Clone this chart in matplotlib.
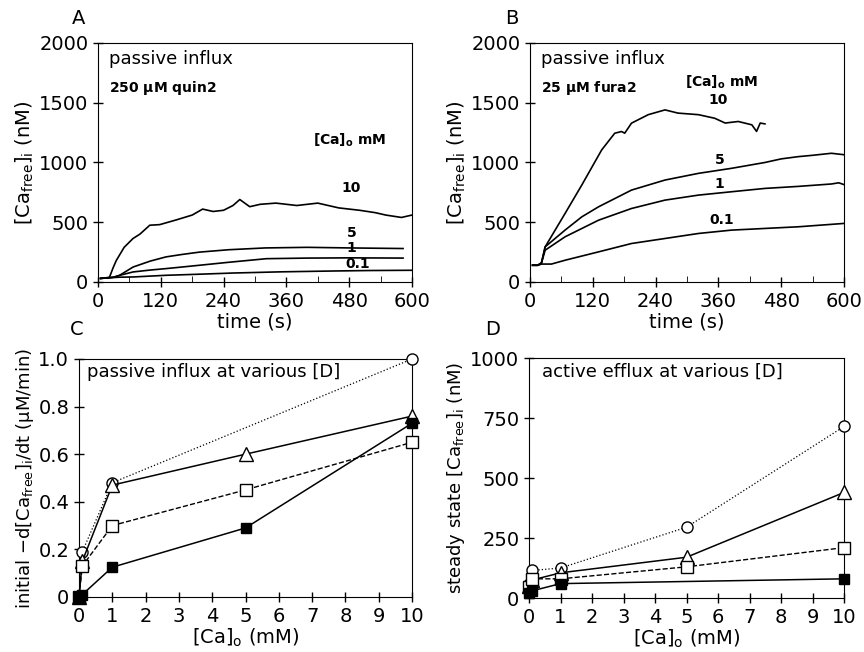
import matplotlib
matplotlib.use("Agg")
import matplotlib.pyplot as plt
from matplotlib.ticker import MultipleLocator

plt.rcParams['font.family'] = ['DejaVu Sans']
plt.rcParams['mathtext.default'] = 'regular'
plt.rcParams['font.size'] = 12

# ---- panel A: passive influx, 250 uM quin2 ----
a_t10 = [5, 15, 22, 29, 35, 50, 67, 80, 99, 118, 150, 180, 200, 220, 240, 258, 271, 290, 310, 340, 380, 420, 460, 500, 530, 550, 580, 600]
a_y10 = [30, 35, 40, 120, 180, 290, 364, 400, 475, 480, 520, 560, 610, 590, 600, 640, 690, 630, 650, 660, 640, 660, 620, 600, 580, 560, 540, 560]
a_t5 = [5, 20, 30, 41, 67, 100, 130, 160, 194, 250, 320, 400, 480, 583]
a_y5 = [30, 35, 40, 55, 125, 175, 210, 230, 250, 270, 285, 290, 285, 280]
a_t1 = [5, 20, 30, 41, 67, 100, 130, 160, 194, 250, 322, 400, 480, 583]
a_y1 = [30, 35, 40, 55, 84, 100, 112, 125, 140, 165, 195, 200, 202, 200]
a_t01 = [5, 20, 41, 67, 130, 200, 258, 350, 450, 520, 600]
a_y01 = [30, 35, 40, 42, 56, 66, 75, 85, 92, 96, 98]

# ---- panel B: passive influx, 25 uM fura2 ----
b_t10 = [5, 15, 22, 29, 67, 99, 137, 162, 175, 181, 194, 226, 258, 283, 322, 353, 373, 398, 424, 433, 440, 449]
b_y10 = [140, 140, 160, 294, 573, 811, 1105, 1245, 1259, 1245, 1329, 1400, 1440, 1413, 1400, 1370, 1330, 1343, 1315, 1260, 1330, 1323]
b_t5 = [5, 15, 22, 29, 67, 99, 131, 194, 258, 322, 385, 449, 480, 513, 540, 576, 600]
b_y5 = [140, 140, 160, 294, 434, 545, 629, 769, 853, 909, 951, 1000, 1030, 1049, 1060, 1077, 1065]
b_t1 = [5, 15, 22, 29, 67, 131, 194, 258, 322, 385, 449, 513, 576, 590, 600]
b_y1 = [140, 140, 160, 266, 378, 517, 615, 685, 727, 755, 783, 800, 820, 830, 815]
b_t01 = [5, 15, 22, 41, 67, 131, 194, 258, 322, 385, 449, 513, 600]
b_y01 = [140, 140, 150, 150, 182, 252, 322, 364, 406, 434, 448, 462, 490]

# ---- panel C: initial influx rate (uM/min) vs [Ca]o ----
c_ca_circ = [0, 0.1, 1, 10]
c_circ = [0, 0.19, 0.48, 1.0]
c_ca = [0, 0.1, 1, 5, 10]
c_tri = [0, 0.15, 0.47, 0.60, 0.76]
c_osq = [0, 0.13, 0.30, 0.45, 0.65]
c_fsq = [0, 0.01, 0.125, 0.29, 0.73]

# ---- panel D: steady state [Ca]i (nM) vs [Ca]o ----
d_ca = [0, 0.1, 1, 5, 10]
d_circ = [60, 115, 125, 295, 715]
d_tri = [50, 75, 105, 170, 440]
d_osq = [45, 80, 80, 130, 210]
d_ca_fsq = [0, 0.1, 1, 10]
d_fsq = [20, 30, 60, 80]

ylab_time = '[Ca$_{free}$]$_i$ (nM)'

fig = plt.figure(figsize=(8.64, 6.52), dpi=100)
axA = fig.add_axes([0.1134, 0.5675, 0.3634, 0.3666])
axB = fig.add_axes([0.6134, 0.5675, 0.3634, 0.3666])
axC = fig.add_axes([0.0914, 0.0844, 0.3855, 0.365])
axD = fig.add_axes([0.6123, 0.0828, 0.3646, 0.368])


def style_time(ax):
    ax.set_xlim(0, 600)
    ax.set_ylim(0, 2000)
    ax.xaxis.set_major_locator(MultipleLocator(120))
    ax.xaxis.set_minor_locator(MultipleLocator(60))
    ax.yaxis.set_major_locator(MultipleLocator(500))
    ax.tick_params(which='major', direction='inout', length=7, width=1, labelsize=14)
    ax.tick_params(axis='x', which='minor', direction='in', length=4)
    ax.set_xlabel('time (s)', fontsize=14, labelpad=1)
    ax.set_ylabel(ylab_time, fontsize=14, labelpad=2)


def style_ca(ax):
    ax.set_xlim(0, 10)
    ax.xaxis.set_major_locator(MultipleLocator(1))
    ax.tick_params(which='major', direction='inout', length=7, width=1, labelsize=14)
    ax.set_xlabel('[Ca]$_o$ (mM)', fontsize=14, labelpad=1)


kw = dict(color='black', lw=1.2)

# A
axA.plot(a_t10, a_y10, **kw)
axA.plot(a_t5, a_y5, **kw)
axA.plot(a_t1, a_y1, **kw)
axA.plot(a_t01, a_y01, **kw)
style_time(axA)
axA.text(22, 1870, 'passive influx', fontsize=13, va='center')
axA.text(22, 1620, '250 $\\mu$M quin2', fontsize=10, fontweight='bold', va='center')
axA.text(481, 1188, '[Ca]$_o$ mM', fontsize=10, fontweight='bold', ha='center', va='center')
axA.text(483, 787, '10', fontsize=10, fontweight='bold', ha='center', va='center')
axA.text(485, 410, '5', fontsize=10, fontweight='bold', ha='center', va='center')
axA.text(485, 285, '1', fontsize=10, fontweight='bold', ha='center', va='center')
axA.text(497, 150, '0.1', fontsize=10, fontweight='bold', ha='center', va='center')

# B
axB.plot(b_t10, b_y10, **kw)
axB.plot(b_t5, b_y5, **kw)
axB.plot(b_t1, b_y1, **kw)
axB.plot(b_t01, b_y01, **kw)
style_time(axB)
axB.text(22, 1870, 'passive influx', fontsize=13, va='center')
axB.text(22, 1620, '25 $\\mu$M fura2', fontsize=10, fontweight='bold', va='center')
axB.text(367, 1674, '[Ca]$_o$ mM', fontsize=10, fontweight='bold', ha='center', va='center')
axB.text(359, 1523, '10', fontsize=10, fontweight='bold', ha='center', va='center')
axB.text(363, 1021, '5', fontsize=10, fontweight='bold', ha='center', va='center')
axB.text(361, 820, '1', fontsize=10, fontweight='bold', ha='center', va='center')
axB.text(367, 519, '0.1', fontsize=10, fontweight='bold', ha='center', va='center')

# C
axC.plot(c_ca_circ, c_circ, ls=':', marker='o', mfc='white', ms=8, color='black', lw=0.9, clip_on=False, zorder=3)
axC.plot(c_ca, c_tri, ls='-', marker='^', mfc='white', ms=10, color='black', lw=1.1, clip_on=False, zorder=3)
axC.plot(c_ca, c_osq, ls='--', marker='s', mfc='white', ms=9, color='black', lw=1.0, clip_on=False, zorder=3)
axC.plot(c_ca, c_fsq, ls='-', marker='s', mfc='black', ms=7, color='black', lw=1.1, clip_on=False, zorder=3)
style_ca(axC)
axC.set_ylim(0, 1.0)
axC.set_yticks([0, 0.2, 0.4, 0.6, 0.8, 1.0], ['0', '0.2', '0.4', '0.6', '0.8', '1.0'])
axC.set_ylabel('initial $-$d[Ca$_{free}$]$_i$/dt ($\\mu$M/min)', fontsize=13, labelpad=2)
axC.text(0.25, 0.945, 'passive influx at various [D]', fontsize=13, va='center')

# D
axD.plot(d_ca, d_circ, ls=':', marker='o', mfc='white', ms=8, color='black', lw=0.9, clip_on=False, zorder=3)
axD.plot(d_ca, d_tri, ls='-', marker='^', mfc='white', ms=10, color='black', lw=1.1, clip_on=False, zorder=3)
axD.plot(d_ca, d_osq, ls='--', marker='s', mfc='white', ms=9, color='black', lw=1.0, clip_on=False, zorder=3)
axD.plot(d_ca_fsq, d_fsq, ls='-', marker='s', mfc='black', ms=7, color='black', lw=1.1, clip_on=False, zorder=3)
style_ca(axD)
axD.set_ylim(0, 1000)
axD.yaxis.set_major_locator(MultipleLocator(250))
axD.set_ylabel('steady state [Ca$_{free}$]$_i$ (nM)', fontsize=13, labelpad=2)
axD.text(0.4, 945, 'active efflux at various [D]', fontsize=13, va='center')

# panel letters
fig.text(0.083, 0.972, 'A', fontsize=14, ha='left', va='center')
fig.text(0.585, 0.972, 'B', fontsize=14, ha='left', va='center')
fig.text(0.081, 0.494, 'C', fontsize=14, ha='left', va='center')
fig.text(0.561, 0.494, 'D', fontsize=14, ha='left', va='center')

fig.savefig('out.png', dpi=100)
